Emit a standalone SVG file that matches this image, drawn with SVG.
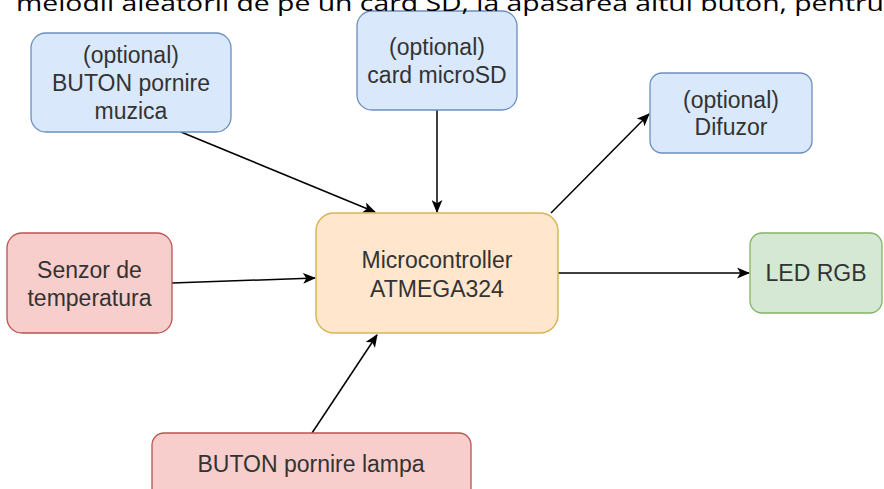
<svg xmlns="http://www.w3.org/2000/svg" width="884" height="489" viewBox="0 0 884 489">
<defs>
<style>
.lbl{font-family:"Liberation Sans",Arial,sans-serif;font-size:23px;fill:#333333;text-anchor:middle}
.blue{fill:#dae8fc;stroke:#6c8ebf;stroke-width:1.3}
.red{fill:#f8cecc;stroke:#b85450;stroke-width:1.3}
.orange{fill:#ffe6cc;stroke:#d6b656;stroke-width:1.5}
.green{fill:#d5e8d4;stroke:#82b366;stroke-width:1.3}
.edge{fill:none;stroke:#000000;stroke-width:1.5;marker-end:url(#arr)}
.top{font-family:"Open Sans","Liberation Sans",sans-serif;font-size:22px;fill:#000000}
</style>
<marker id="arr" viewBox="0 0 12 10" refX="11" refY="5" markerWidth="13" markerHeight="11" markerUnits="userSpaceOnUse" orient="auto">
<path d="M0,0 L12,5 L0,10 L3,5 Z" fill="#000000"/>
</marker>
</defs>
<rect width="884" height="489" fill="#ffffff"/>
<g id="connectors">
<line class="edge" x1="181" y1="132" x2="375" y2="212"/>
<line class="edge" x1="437" y1="110" x2="437" y2="212"/>
<line class="edge" x1="551" y1="213" x2="649" y2="114"/>
<line class="edge" x1="172" y1="283" x2="315" y2="278"/>
<line class="edge" x1="558" y1="273" x2="749" y2="273"/>
<line class="edge" x1="312" y1="433" x2="377" y2="335"/>
</g>
<g id="node-muzica">
<rect class="blue" x="31" y="33" width="200" height="99" rx="15"/>
<text class="lbl" x="131" y="63">(optional)</text>
<text class="lbl" x="131" y="91">BUTON pornire</text>
<text class="lbl" x="131" y="119">muzica</text>
</g>
<g id="node-card">
<rect class="blue" x="357" y="11" width="160" height="99" rx="15"/>
<text class="lbl" x="437" y="55">(optional)</text>
<text class="lbl" x="437" y="83">card microSD</text>
</g>
<g id="node-difuzor">
<rect class="blue" x="650" y="73" width="162" height="80" rx="12"/>
<text class="lbl" x="731" y="108">(optional)</text>
<text class="lbl" x="731" y="135">Difuzor</text>
</g>
<g id="node-senzor">
<rect class="red" x="7" y="233" width="165" height="100" rx="15"/>
<text class="lbl" x="89.5" y="278">Senzor de</text>
<text class="lbl" x="89.5" y="306">temperatura</text>
</g>
<g id="node-micro">
<rect class="orange" x="316" y="213" width="242" height="120" rx="18"/>
<text class="lbl" x="437" y="268">Microcontroller</text>
<text class="lbl" x="437" y="297">ATMEGA324</text>
</g>
<g id="node-led">
<rect class="green" x="750" y="233" width="132" height="80" rx="12"/>
<text class="lbl" x="816" y="281">LED RGB</text>
</g>
<g id="node-lampa">
<rect class="red" x="152" y="433" width="319" height="80" rx="12"/>
<text class="lbl" x="311" y="472">BUTON pornire lampa</text>
</g>
<text class="top" x="16" y="11" textLength="868" lengthAdjust="spacingAndGlyphs">melodii aleatorii de pe un card SD, la apasarea altui buton, pentru</text>
</svg>
